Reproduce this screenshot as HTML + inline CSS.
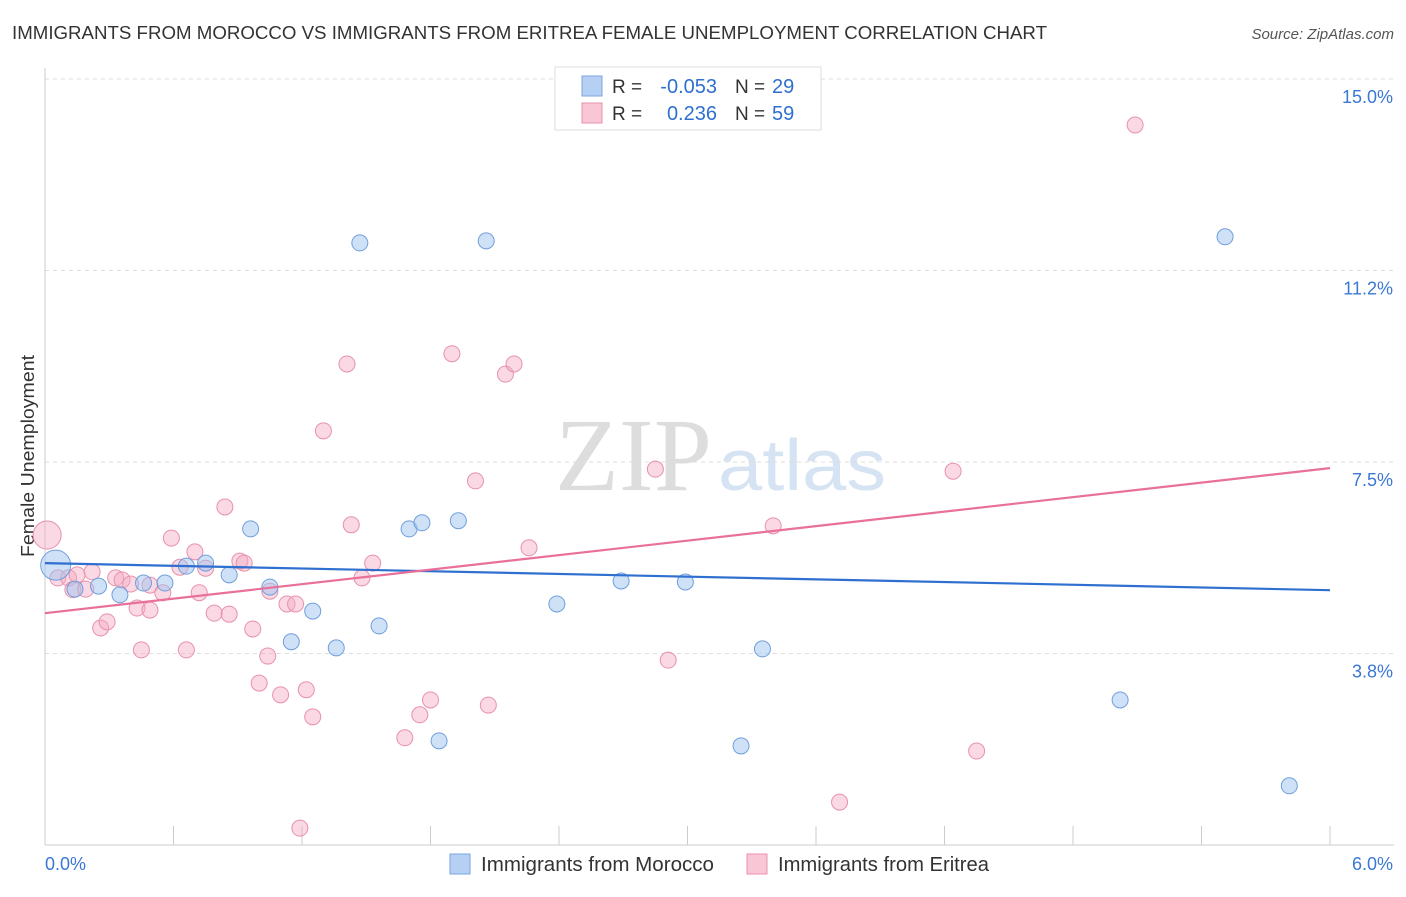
<!DOCTYPE html>
<html><head><meta charset="utf-8"><style>
body{margin:0;background:#fff;font-family:"Liberation Sans",sans-serif;}
</style></head><body>
<svg width="1406" height="892" xmlns="http://www.w3.org/2000/svg">
<text x="12" y="39" font-size="18.5" fill="#333" textLength="1035" lengthAdjust="spacingAndGlyphs">IMMIGRANTS FROM MOROCCO VS IMMIGRANTS FROM ERITREA FEMALE UNEMPLOYMENT CORRELATION CHART</text>
<text x="1394" y="39" font-size="15" fill="#555" font-style="italic" text-anchor="end">Source: ZipAtlas.com</text>
<text x="555" y="490" font-size="104" fill="#ddd" font-family="Liberation Serif" textLength="157" lengthAdjust="spacingAndGlyphs">ZIP</text>
<text x="718" y="490" font-size="72" fill="#d6e3f3" textLength="168" lengthAdjust="spacingAndGlyphs">atlas</text>
<g id="grid"></g>
<g id="axes"></g>
<text x="34" y="456" font-size="18" fill="#333" text-anchor="middle" textLength="202" lengthAdjust="spacingAndGlyphs" transform="rotate(-90 34 456)">Female Unemployment</text>
<g id="pts"></g>
<g id="lines"></g>
<g>
<rect x="555" y="67" width="266" height="63" fill="#fff" stroke="#ddd"/>
<rect x="582" y="76" width="20" height="20" fill="#b6d0f3" stroke="#7aa6e0"/>
<rect x="582" y="103" width="20" height="20" fill="#f8c6d4" stroke="#e891ab"/>
<text x="612" y="93" font-size="19" fill="#333">R =</text>
<text x="717" y="93" font-size="20" fill="#2f6fd0" text-anchor="end">-0.053</text>
<text x="735" y="93" font-size="19" fill="#333">N =</text>
<text x="772" y="93" font-size="20" fill="#2f6fd0">29</text>
<text x="612" y="120" font-size="19" fill="#333">R =</text>
<text x="717" y="120" font-size="20" fill="#2f6fd0" text-anchor="end">0.236</text>
<text x="735" y="120" font-size="19" fill="#333">N =</text>
<text x="772" y="120" font-size="20" fill="#2f6fd0">59</text>
</g>
<g>
<rect x="450" y="854" width="20" height="20" fill="#b6d0f3" stroke="#7aa6e0"/>
<text x="481" y="871" font-size="20" fill="#333" textLength="233" lengthAdjust="spacingAndGlyphs">Immigrants from Morocco</text>
<rect x="747" y="854" width="20" height="20" fill="#f8c6d4" stroke="#e891ab"/>
<text x="778" y="871" font-size="20" fill="#333" textLength="211" lengthAdjust="spacingAndGlyphs">Immigrants from Eritrea</text>
</g>
</svg>
<script>
const yTicks=[15.0,11.25,7.5,3.75];
const yTickLabels=["15.0%","11.2%","7.5%","3.8%"];
const xTicks=[0,0.6,1.2,1.8,2.4,3.0,3.6,4.2,4.8,5.4,6.0];
const moroccoX=[0.05,0.14,0.25,0.35,0.46,0.56,0.66,0.75,0.86,0.96,1.05,1.15,1.25,1.36,1.47,1.56,1.70,1.76,1.84,1.93,2.06,2.39,2.69,2.99,3.25,3.35,5.02,5.51,5.81];
const moroccoY=[5.48,5.01,5.07,4.90,5.13,5.13,5.46,5.52,5.29,6.19,5.05,3.98,4.58,3.86,11.79,4.29,6.19,6.31,2.04,6.35,11.83,4.72,5.17,5.15,1.94,3.84,2.84,11.91,1.16];
const eritreaX=[0.01,0.06,0.11,0.13,0.15,0.19,0.22,0.26,0.29,0.33,0.36,0.40,0.43,0.45,0.49,0.49,0.55,0.59,0.63,0.66,0.70,0.72,0.75,0.79,0.84,0.86,0.91,0.93,0.97,1.00,1.04,1.05,1.10,1.13,1.17,1.19,1.22,1.25,1.30,1.41,1.43,1.48,1.53,1.68,1.75,1.80,1.90,2.01,2.07,2.15,2.19,2.26,2.85,2.91,3.40,3.71,4.24,4.35,5.09];
const eritreaY=[6.07,5.23,5.23,5.00,5.29,5.01,5.35,4.25,4.37,5.23,5.19,5.11,4.64,3.82,4.60,5.09,4.94,6.01,5.44,3.82,5.74,4.94,5.42,4.54,6.62,4.52,5.56,5.52,4.23,3.17,3.70,4.97,2.94,4.72,4.72,0.33,3.04,2.51,8.11,9.42,6.27,5.23,5.52,2.10,2.55,2.84,9.62,7.13,2.74,9.22,9.42,5.82,7.36,3.62,6.25,0.84,7.32,1.84,14.10];
const moroccoTrend=[5.52,4.99];
const eritreaTrend=[4.54,7.38];
const NS="http://www.w3.org/2000/svg";
const X=v=>45+v/6*1285, Y=v=>79+(15-v)/15*766;
function mk(t,a,p){const e=document.createElementNS(NS,t);for(const k in a)e.setAttribute(k,a[k]);p.appendChild(e);return e;}
const grid=document.getElementById('grid'),axes=document.getElementById('axes'),pts=document.getElementById('pts'),lines=document.getElementById('lines');
yTicks.forEach((v,i)=>{
 const l=mk('line',{x1:45,x2:1394,y1:Y(v),y2:Y(v),stroke:'#ddd','stroke-dasharray':'4,4'},grid);
 
 
 const t=mk('text',{x:1393,y:Y(v)+24,'font-size':18,fill:'#3a78d4','text-anchor':'end'},axes);
 t.textContent=yTickLabels[i];
 
 
});
mk('line',{x1:45,x2:45,y1:68,y2:845,stroke:'#ccc'},axes);
mk('line',{x1:45,x2:1394,y1:845,y2:845,stroke:'#ccc'},axes);
xTicks.forEach(v=>{
 const l=mk('line',{x1:X(v),x2:X(v),y1:826,y2:845,stroke:'#ccc'},axes);
 
 
});
const t0=mk('text',{x:45,y:870,'font-size':18,fill:'#3a78d4'},axes);t0.textContent="0.0%";


const t1=mk('text',{x:1393,y:870,'font-size':18,fill:'#3a78d4','text-anchor':'end'},axes);t1.textContent="6.0%";


eritreaX.forEach((v,i)=>{
 const c=mk('circle',{cx:X(v),cy:Y(eritreaY[i]),r:i==0?14:8,fill:'rgba(244,170,195,0.45)',stroke:'#e891ab','stroke-width':1},pts);
 
 
});
moroccoX.forEach((v,i)=>{
 const c=mk('circle',{cx:X(v),cy:Y(moroccoY[i]),r:i==0?15:8,fill:'rgba(160,195,240,0.5)',stroke:'#6f9fdc','stroke-width':1},pts);
 
 
});
const lb=mk('line',{x1:X(0),x2:X(6),y1:Y(moroccoTrend[0]),y2:Y(moroccoTrend[1]),stroke:'#2f6fd0','stroke-width':2.2},lines);


const lp=mk('line',{x1:X(0),x2:X(6),y1:Y(eritreaTrend[0]),y2:Y(eritreaTrend[1]),stroke:'#e8709a','stroke-width':2.2},lines);


</script>
</body></html>
